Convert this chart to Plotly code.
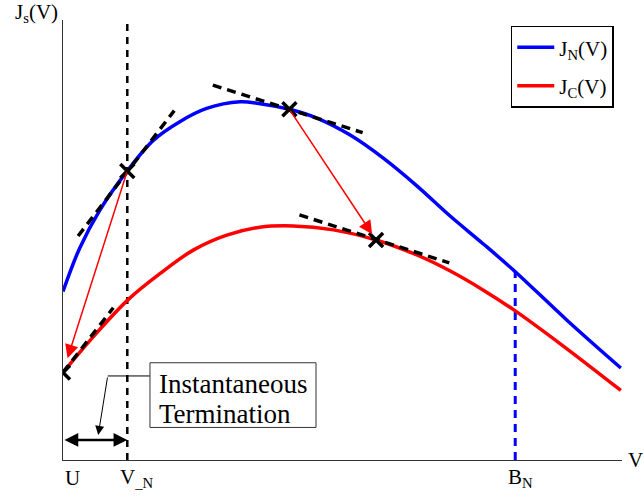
import plotly.graph_objects as go

# ---- data (arbitrary units) ----
blue_x = [0.00, 0.30, 0.66, 1.15, 1.62, 2.09, 2.57, 3.17, 3.47, 4.05, 4.54, 5.13, 5.73, 6.33, 6.92, 7.52, 8.09, 9.03, 9.98]
blue_y = [3.83, 4.82, 5.68, 6.57, 7.27, 7.69, 7.99, 8.14, 8.11, 7.97, 7.77, 7.39, 6.86, 6.23, 5.55, 4.91, 4.28, 3.16, 2.09]

red_x = [0.00, 0.54, 1.17, 1.74, 2.33, 2.93, 3.52, 4.12, 4.84, 5.60, 6.33, 6.92, 7.52, 8.09, 8.95, 9.98]
red_y = [1.99, 2.80, 3.65, 4.24, 4.77, 5.11, 5.29, 5.32, 5.23, 5.00, 4.66, 4.30, 3.86, 3.39, 2.59, 1.58]

U = 0.0
V_N = 1.15
B_N = 8.09
B_N_level = 4.28

marker_x = [1.15, 4.05, 0.00, 5.60]
marker_y = [6.57, 7.97, 1.99, 5.00]

tangent_x = [[0.27, 1.99], [2.68, 5.36], [4.23, 6.91], [0.00, 0.90]]
tangent_y = [[5.09, 7.94], [8.52, 7.44], [5.57, 4.48], [1.99, 3.46]]

# transfer arrows: (from x, from y, to x, to y)
transfers = [(1.15, 6.57, 0.00, 1.99), (4.05, 7.97, 5.60, 5.00)]
transfer_standoff = [15, 7]

box_x = [1.556, 4.526]
box_y = [0.74, 2.21]
leader_x = [1.556, 0.80, 0.63]
leader_y = [1.91, 1.91, 0.57]
span_y = 0.455

X_MAX = 10.0
Y_MAX = 10.0
FONT = "Liberation Serif"

fig = go.Figure()

# vertical reference lines
fig.add_trace(go.Scatter(x=[V_N, V_N], y=[0, Y_MAX], mode="lines",
                         line=dict(color="black", width=2.5, dash="7px,6px"),
                         showlegend=False, hoverinfo="skip"))
fig.add_trace(go.Scatter(x=[B_N, B_N], y=[0, B_N_level], mode="lines",
                         line=dict(color="#0000ff", width=3, dash="8px,6px"),
                         showlegend=False, hoverinfo="skip"))

# curves
fig.add_trace(go.Scatter(x=blue_x, y=blue_y, mode="lines", name="J<sub>N</sub>(V)",
                         line=dict(color="#0000ff", width=3.5, shape="spline"),
                         legendgroup="a"))
fig.add_trace(go.Scatter(x=red_x, y=red_y, mode="lines", name="J<sub>C</sub>(V)",
                         line=dict(color="#ff0000", width=3.5, shape="spline"),
                         legendgroup="b"))

# tangents
for tx, ty in zip(tangent_x, tangent_y):
    fig.add_trace(go.Scatter(x=tx, y=ty, mode="lines",
                             line=dict(color="black", width=3.5, dash="9px,6px"),
                             showlegend=False, hoverinfo="skip"))

# markers
fig.add_trace(go.Scatter(x=marker_x, y=marker_y, mode="markers",
                         marker=dict(symbol="x-thin", size=14,
                                     line=dict(color="black", width=3.5)),
                         showlegend=False, hoverinfo="skip"))

annotations = []
for (x0, y0, x1, y1), so in zip(transfers, transfer_standoff):
    annotations.append(dict(x=x1, y=y1, ax=x0, ay=y0, xref="x", yref="y",
                            axref="x", ayref="y", text="", showarrow=True,
                            arrowhead=2, arrowsize=1.8, arrowwidth=1.5,
                            arrowcolor="#ff0000", standoff=so))

# leader from text box
fig.add_shape(type="line", x0=leader_x[0], y0=leader_y[0], x1=leader_x[1], y1=leader_y[1],
              xref="x", yref="y", line=dict(color="black", width=1))
annotations.append(dict(x=leader_x[2], y=leader_y[2], ax=leader_x[1], ay=leader_y[1],
                        xref="x", yref="y", axref="x", ayref="y", text="",
                        showarrow=True, arrowhead=2, arrowsize=1.8, arrowwidth=1,
                        arrowcolor="black"))
# double arrow U..V_N
annotations.append(dict(x=V_N, y=span_y, ax=U, ay=span_y, xref="x", yref="y",
                        axref="x", ayref="y", text="", showarrow=True,
                        arrowhead=2, arrowsize=1.1, arrowwidth=2.5, arrowside="end+start",
                        arrowcolor="black"))

fig.add_shape(type="rect", x0=box_x[0], x1=box_x[1], y0=box_y[0], y1=box_y[1],
              xref="x", yref="y", line=dict(color="#333333", width=1), fillcolor="white")

txt = dict(xref="x", yref="y", showarrow=False, font=dict(family=FONT, size=27, color="black"),
           xanchor="left", yanchor="middle")
annotations.append(dict(x=1.676, y=1.72, text="Instantaneous", **txt))
annotations.append(dict(x=1.676, y=1.04, text="Termination", **txt))

# labels outside the axes, placed in paper coordinates (axis ranges start at 0)
lab = dict(xref="paper", yref="paper", showarrow=False,
           font=dict(family=FONT, size=21, color="black"),
           xanchor="left", yanchor="middle")
annotations.append(dict(x=U / X_MAX, y=-0.040, text="U", **lab))
annotations.append(dict(x=(V_N - 0.16) / X_MAX, y=-0.040, text="V<sub>_N</sub>", **lab))
annotations.append(dict(x=(B_N - 0.16) / X_MAX, y=-0.040, text="B<sub>N</sub>", **lab))
annotations.append(dict(x=1.008, y=0.0, text="V", **lab))
annotations.append(dict(x=-0.090, y=1.015, text="J<sub>s</sub>(V)", **lab))

fig.update_layout(
    width=644, height=503,
    margin=dict(l=63, r=22, t=20, b=43),
    paper_bgcolor="white", plot_bgcolor="white",
    showlegend=True,
    legend=dict(x=0.801, y=0.987, xanchor="left", yanchor="top",
                bordercolor="black", borderwidth=1.5, bgcolor="white",
                font=dict(family=FONT, size=21, color="black"),
                itemwidth=37, tracegroupgap=8),
    xaxis=dict(range=[0, X_MAX], showgrid=False, zeroline=False, showticklabels=False,
               showline=True, linecolor="#333333", linewidth=1, ticks=""),
    yaxis=dict(range=[0, Y_MAX], showgrid=False, zeroline=False, showticklabels=False,
               showline=True, linecolor="#333333", linewidth=1, ticks=""),
    annotations=annotations,
)

fig.write_html("out.html", config={"displayModeBar": False},
               post_script="document.body.style.margin='0';")
